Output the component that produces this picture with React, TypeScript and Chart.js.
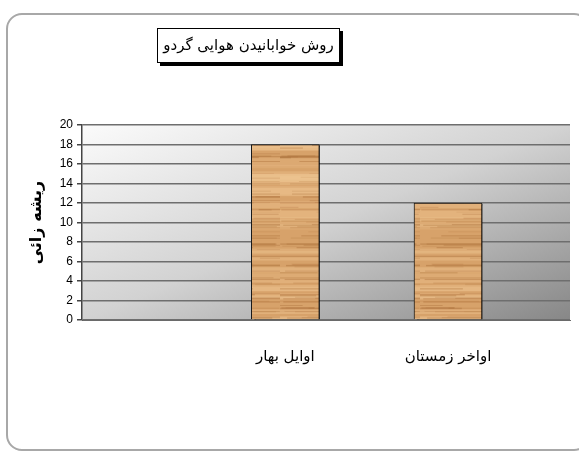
import React, { useEffect, useRef } from 'react';
import { Chart, registerables } from 'chart.js';

Chart.register(...registerables);

const chartTitle = 'روش خوابانیدن هوایی گردو';
const yTitle = 'ریشه زائی';
const categories = ['', '', 'اوایل بهار', '', 'اواخر زمستان', ''];
const values: (number | null)[] = [null, null, 18, null, 12, null];
const yMin = 0;
const yMax = 20;
const yStep = 2;

const ARABIC_FONT = '"DejaVu Sans", "Liberation Sans", Arial, sans-serif';
const NUM_FONT = '"Liberation Sans", Arial, sans-serif';

function makeWood(ctx: CanvasRenderingContext2D): CanvasPattern | string {
  const c = document.createElement('canvas');
  c.width = 70;
  c.height = 240;
  const g = c.getContext('2d');
  if (!g) return '#d8a46c';
  g.fillStyle = '#d7a26a';
  g.fillRect(0, 0, c.width, c.height);
  let s = 987654;
  const rnd = () => {
    s = (s * 1103515245 + 12345) & 0x7fffffff;
    return s / 0x7fffffff;
  };
  for (let i = 0; i < 50; i++) {
    const y = rnd() * c.height;
    g.fillStyle = `rgba(238,196,145,${0.2 + rnd() * 0.3})`;
    g.fillRect(0, y, c.width, 3 + rnd() * 6);
  }
  for (let i = 0; i < 110; i++) {
    const y = rnd() * c.height;
    const x = rnd() * c.width - 20;
    const w = 25 + rnd() * 60;
    g.fillStyle = `rgba(165,105,52,${0.12 + rnd() * 0.3})`;
    g.fillRect(x, y, w, 0.7 + rnd() * 0.8);
  }
  return ctx.createPattern(c, 'repeat') || '#d8a46c';
}

const plotBg = {
  id: 'plotBg',
  beforeDraw(chart: any) {
    const { ctx, chartArea: a } = chart;
    const w = a.right - a.left;
    const h = a.bottom - a.top;
    const t = (2 * w * h) / (w * w + h * h);
    const grad = ctx.createLinearGradient(a.left, a.top, a.left + h * t, a.top + w * t);
    grad.addColorStop(0, '#fbfbfb');
    grad.addColorStop(0.5, '#d2d2d2');
    grad.addColorStop(1, '#878787');
    ctx.save();
    ctx.fillStyle = grad;
    ctx.fillRect(a.left, a.top, w, h);
    ctx.restore();
  },
};

const barShadow = {
  id: 'barShadow',
  beforeDatasetsDraw(chart: any) {
    const ctx = chart.ctx;
    ctx.save();
    ctx.shadowColor = 'rgba(0,0,0,0.95)';
    ctx.shadowOffsetX = 3;
    ctx.shadowOffsetY = 1;
    ctx.shadowBlur = 0;
  },
  afterDatasetsDraw(chart: any) {
    chart.ctx.restore();
  },
};

export default function App() {
  const ref = useRef<HTMLCanvasElement | null>(null);

  useEffect(() => {
    const canvas = ref.current;
    if (!canvas) return;
    const ctx = canvas.getContext('2d');
    if (!ctx) return;
    const wood = makeWood(ctx);
    const chart = new Chart(canvas, {
      type: 'bar',
      data: {
        labels: categories,
        datasets: [
          {
            data: values as any,
            backgroundColor: wood as any,
            borderColor: '#1a1a1a',
            borderWidth: 1,
            barThickness: 68,
          },
        ],
      },
      options: {
        responsive: false,
        animation: false,
        layout: { padding: { left: 27, right: 9, top: 125, bottom: 75 } },
        plugins: {
          legend: { display: false },
          tooltip: { enabled: false },
          title: { display: false },
        },
        scales: {
          x: {
            type: 'category',
            offset: true,
            grid: { display: false, drawTicks: false },
            border: { display: true, color: '#6a6a6a', width: 1 },
            ticks: {
              padding: 28,
              color: '#000',
              maxRotation: 0,
              autoSkip: false,
              font: { family: ARABIC_FONT, size: 15 },
            },
            afterFit(scale: any) {
              scale.height = 60;
            },
          },
          y: {
            min: yMin,
            max: yMax,
            ticks: {
              stepSize: yStep,
              color: '#000',
              padding: 4,
              font: { family: NUM_FONT, size: 12 },
            },
            grid: {
              color: '#6e6e6e',
              lineWidth: 1.5,
              tickColor: '#444',
              tickLength: 5,
              drawTicks: true,
            },
            border: { display: true, color: '#444', width: 1.5 },
            title: {
              display: true,
              text: yTitle,
              color: '#000',
              padding: { top: 0, bottom: 0 },
              font: { family: ARABIC_FONT, size: 16, weight: 'bold' },
            },
            afterFit(scale: any) {
              scale.width = 55;
            },
          },
        },
      },
      plugins: [plotBg, barShadow],
    });
    return () => chart.destroy();
  }, []);

  return (
    <div
      style={{
        position: 'fixed',
        left: 0,
        top: 0,
        width: 579,
        height: 455,
        overflow: 'hidden',
        background: '#fff',
      }}
    >
      <div
        style={{
          position: 'absolute',
          left: 6,
          top: 13,
          width: 584,
          height: 438,
          border: '2px solid #a8a8a8',
          borderRadius: 16,
          boxSizing: 'border-box',
        }}
      />
      <canvas
        ref={ref}
        width={579}
        height={455}
        style={{ position: 'absolute', left: 0, top: 0, width: 579, height: 455 }}
      />
      <div
        dir="rtl"
        style={{
          position: 'absolute',
          left: 157,
          top: 28,
          width: 183,
          height: 35,
          boxSizing: 'border-box',
          border: '1px solid #000',
          background: '#fff',
          boxShadow: '3px 3px 0 #000',
          fontFamily: ARABIC_FONT,
          fontSize: 15,
          lineHeight: '33px',
          textAlign: 'center',
          whiteSpace: 'nowrap',
          color: '#000',
        }}
      >
        {chartTitle}
      </div>
    </div>
  );
}
